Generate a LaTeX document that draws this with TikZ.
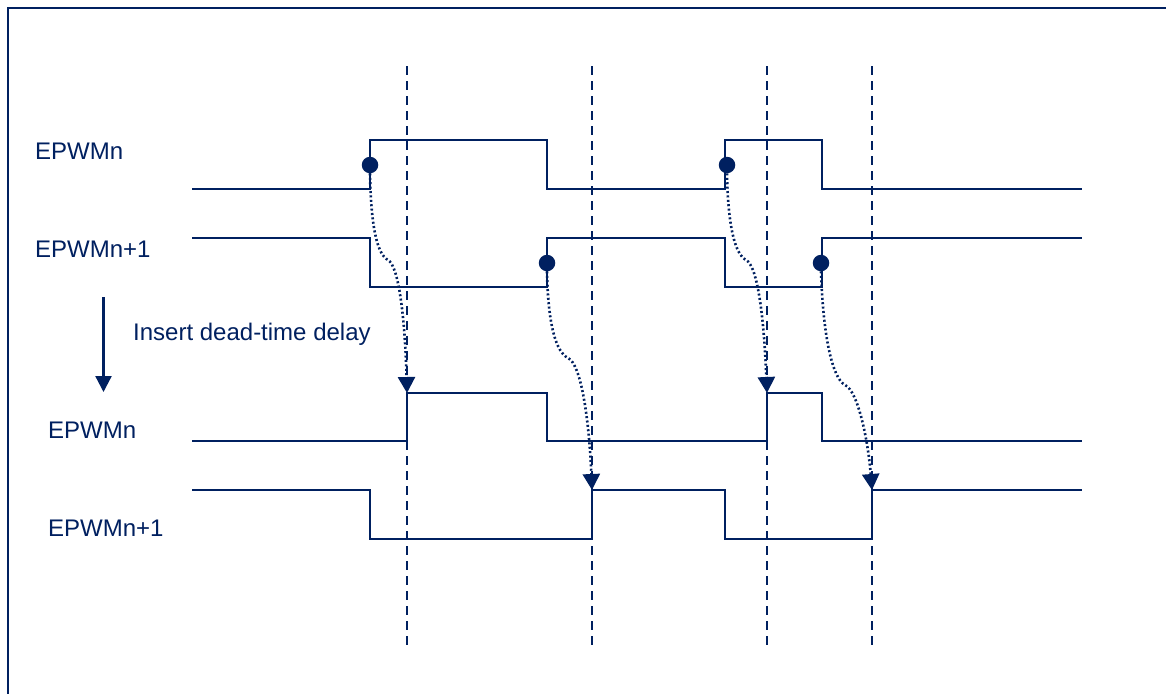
\documentclass[tikz,border=0pt]{standalone}
\usepackage{fontspec}
\setmainfont{Liberation Sans}
\usetikzlibrary{arrows.meta}
\definecolor{navy}{RGB}{0,32,96}
\begin{document}
\begin{tikzpicture}[x=1pt,y=-1pt,
  sig/.style={draw=navy,line width=2.3pt,line join=miter},
  guide/.style={draw=navy,line width=2.4pt,dash pattern=on 9pt off 6pt},
  delay/.style={draw=navy,line width=2.6pt,dash pattern=on 2pt off 2.4pt,-{Triangle[length=16pt,width=17pt]}},
  dot/.style={circle,fill=navy,inner sep=0pt,minimum size=16.5pt},
  lbl/.style={anchor=base west,inner sep=0pt,text=navy,font=\fontsize{24}{28}\selectfont}]
\useasboundingbox (0,0) rectangle (1166,693);
\fill[white] (0,0) rectangle (1166,693);
% frame
\draw[navy,line width=2pt] (8,694) -- (8,8) -- (1167,8);
% guide lines
\foreach \gx/\gn in {407/g1,592/g2,767/g3,872/g4}{
  \coordinate (\gn t) at (\gx,66);
  \coordinate (\gn b) at (\gx,648);
  \draw[guide] (\gn t) -- (\gn b);
}
% labels
\node[lbl] (l1) at (35,159) {EPWMn};
\node[lbl] (l2) at (35,257) {EPWMn+1};
\node[lbl] (l3) at (133,340.5) {Insert dead-time delay};
\node[lbl] (l4) at (48,438) {EPWMn};
\node[lbl] (l5) at (48,536) {EPWMn+1};
% left arrow
\coordinate (as) at (103.5,297);
\coordinate (ae) at (103.5,392);
\draw[navy,line width=2.3pt,-{Triangle[length=16pt,width=16pt]}] (as) -- (ae);
% input EPWMn
\draw[sig] (192,189) -- (370,189) -- (370,140) -- (547,140) -- (547,189) -- (725,189) -- (725,140) -- (822,140) -- (822,189) -- (1082,189);
% input EPWMn+1
\draw[sig] (192,238) -- (370,238) -- (370,287) -- (547,287) -- (547,238) -- (725,238) -- (725,287) -- (822,287) -- (822,238) -- (1082,238);
% output EPWMn
\draw[sig] (192,441) -- (407,441) -- (407,393) -- (547,393) -- (547,441) -- (767,441) -- (767,393) -- (822,393) -- (822,441) -- (1082,441);
% output EPWMn+1
\draw[sig] (192,490) -- (370,490) -- (370,539) -- (592,539) -- (592,490) -- (725,490) -- (725,539) -- (872,539) -- (872,490) -- (1082,490);
% dots
\node[dot] (d1) at (370,165) {};
\node[dot] (d2) at (547,263) {};
\node[dot] (d3) at (727,165) {};
\node[dot] (d4) at (821,263) {};
% arrow ends
\coordinate (e1) at (407,393);
\coordinate (e2) at (592,490);
\coordinate (e3) at (767,393);
\coordinate (e4) at (872,490);
% delay curves
\draw[delay] (d1.south) .. controls (371,227) and (377,254) .. (388,260) .. controls (399,266) and (405,320) .. (e1);
\draw[delay] (d2.south) .. controls (548,325) and (556,352) .. (568,358) .. controls (581,364) and (589,418) .. (e2);
\draw[delay] (d3.south) .. controls (728,227) and (735,254) .. (746,260) .. controls (758,266) and (764,320) .. (e3);
\draw[delay] (d4.south) .. controls (823,335) and (832,378) .. (845,385) .. controls (858,391) and (868,440) .. (e4);
\end{tikzpicture}
\end{document}
